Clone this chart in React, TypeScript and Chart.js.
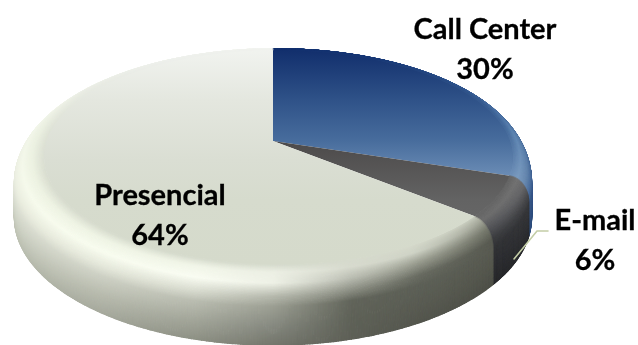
import { useEffect, useRef } from "react";
import { Chart, registerables } from "chart.js";

Chart.register(...registerables);

const categories = ["Call Center", "E-mail", "Presencial"];
const shares = [30, 6, 64];

// Disc geometry, relative to the radius Chart.js gives the pie.
const STRETCH_X = 1.808;
const STRETCH_Y = 0.816;
const THICKNESS = 0.39;
const PERSPECTIVE = 0.168;
const BEVEL_RIGHT = 0.07;
const BEVEL_LEFT = 0.112;
const SHOULDER = 0.4;

// Rim shading: rows follow the profile from the base (0) to the flat top (1),
// columns follow the angle clockwise from twelve o'clock.
const rimRows = [0, 0.25, 0.5, 0.61, 0.75, 0.88, 1];

const callCenterAngles = [0, 30, 60, 85, 108];
const callCenterRim = [
  ["#0c1d46", "#13264f", "#1b3160", "#284470", "#304f7e"],
  ["#0c1d46", "#13264f", "#1d3464", "#2b4877", "#365584"],
  ["#0c1d46", "#13264f", "#1f3868", "#2f4e7e", "#3c5c8c"],
  ["#0f2352", "#172e60", "#27457a", "#3d5f90", "#4d6f9e"],
  ["#12285c", "#1c3770", "#335688", "#5377a4", "#6c8cb2"],
  ["#143270", "#1f3f7c", "#3b5f95", "#5f86b3", "#7c9cc0"],
  ["#112e6c", "#1a3a76", "#2f5288", "#476c9c", "#6f90b8"],
];

const emailAngles = [108, 130];
const emailRim = [
  ["#2c2d30", "#28292c"],
  ["#333437", "#2e2f32"],
  ["#3a3b3e", "#333437"],
  ["#4a4b4e", "#3c3d40"],
  ["#6a6a6c", "#55565a"],
  ["#747474", "#6e6e6e"],
  ["#666666", "#686868"],
];

const presencialAngles = [129, 150, 165, 180, 195, 215, 250, 275, 300, 330, 360];
const presencialRim = [
  ["#4e5048", "#54564e", "#5e6057", "#74766c", "#8e9185", "#a6a99d", "#bcc0b2", "#c8ccbe", "#d2d6ca", "#dadcd4", "#e0e2dc"],
  ["#55574e", "#5a5c53", "#5f6258", "#868980", "#a3a69a", "#b8bbae", "#cfd3c6", "#d8dbcf", "#dde0d6", "#e2e4de", "#e6e8e2"],
  ["#5a5c53", "#5e6158", "#62655b", "#9c9f93", "#bbbeb2", "#ced1c5", "#dfe2d6", "#e4e7db", "#e6e9df", "#eaece6", "#ebede8"],
  ["#595b52", "#686b61", "#8a8d82", "#b6b9ad", "#d8dbcf", "#e4e7da", "#ebeee0", "#eef1e6", "#eef1e9", "#f1f3ee", "#f2f4f0"],
  ["#74776b", "#9a9d90", "#bcbfb4", "#eef1e6", "#f9fcf2", "#f8fcef", "#f6faec", "#f2f6e9", "#f1f4ec", "#f3f5f1", "#f4f6f2"],
  ["#a0a396", "#cfd3c6", "#d8dbcf", "#ecefe4", "#f1f5e8", "#eff4e5", "#edf2e2", "#ebf0e1", "#eaede4", "#eff1ed", "#f2f4f0"],
  ["#c4c8ba", "#d5d9cb", "#d6dacd", "#d6dbcd", "#d6dbcd", "#d6dbcd", "#d9ddd0", "#dee2d6", "#e6e9e1", "#edefeb", "#f0f2ee"],
];

const sliceRims = [
  { angles: callCenterAngles, rim: callCenterRim },
  { angles: emailAngles, rim: emailRim },
  { angles: presencialAngles, rim: presencialRim },
];

// Vertical gradients of the flat top face: [canvas y, colour].
const sliceFaces: [number, string][][] = [
  [[49, "#112e6c"], [100, "#2f5288"], [140, "#476c9c"], [180, "#6f90b8"]],
  [[141, "#4c4a4a"], [200, "#636363"], [235, "#686868"]],
  [[49, "#f1f3ef"], [100, "#e4e7df"], [160, "#dadED3"], [200, "#d6dbcd"], [265, "#d5dacb"]],
];

const labelAnchors = [
  { x: 485, y: 39 },
  { x: 595, y: 230 },
  { x: 160, y: 205 },
];
const LABEL_LEADING = 40;
const leaderLine = [[514, 259], [537, 231], [548, 231]];

const rgb = (hex: string) => [1, 3, 5].map((i) => parseInt(hex.slice(i, i + 2), 16));

function rimColor(angles: number[], rim: string[][], deg: number, t: number) {
  const find = (stops: number[], v: number) => {
    let i = 0;
    while (i < stops.length - 2 && v > stops[i + 1]) i++;
    const f = Math.min(1, Math.max(0, (v - stops[i]) / (stops[i + 1] - stops[i])));
    return [i, f];
  };
  const [row, rf] = find(rimRows, t);
  const [col, cf] = find(angles, deg);
  const a = rgb(rim[row][col]);
  const b = rgb(rim[row][col + 1]);
  const c = rgb(rim[row + 1][col]);
  const d = rgb(rim[row + 1][col + 1]);
  const mix = a.map((_, i) => {
    const top = a[i] + (b[i] - a[i]) * cf;
    const bottom = c[i] + (d[i] - c[i]) * cf;
    return Math.round(top + (bottom - top) * rf);
  });
  return `rgb(${mix[0]},${mix[1]},${mix[2]})`;
}

// The bevel is slightly narrower on the right-hand side of the disc.
const bevelAt = (deg: number) =>
  BEVEL_LEFT + ((BEVEL_RIGHT - BEVEL_LEFT) * (1 + Math.sin((deg * Math.PI) / 180))) / 2;

// Position on the rim profile: t=0 base, t=0.5 shoulder, t=1 edge of the flat top.
function profile(t: number, deg: number) {
  if (t <= 0.5) return { r: 1, d: 1 - (1 - SHOULDER) * (t / 0.5) };
  const phi = ((t - 0.5) / 0.5) * (Math.PI / 2);
  const bevel = bevelAt(deg);
  return { r: 1 - bevel + bevel * Math.cos(phi), d: SHOULDER * (1 - Math.sin(phi)) };
}

const disc3d = {
  id: "disc3d",
  beforeDatasetsDraw(chart: any) {
    const { ctx } = chart;
    const arcs = chart.getDatasetMeta(0).data;
    const { x: cx, y: cy, outerRadius: R } = arcs[0];
    const project = (deg: number, r: number, d: number) => {
      const th = (deg * Math.PI) / 180;
      const u = r * Math.sin(th);
      const v = -r * Math.cos(th);
      const w = 1 - PERSPECTIVE * v;
      return [cx + (R * STRETCH_X * u) / w, cy + (R * STRETCH_Y * v + R * THICKNESS * d) / w];
    };
    const spans = arcs.map((arc: any) => [
      ((arc.startAngle + Math.PI / 2) * 180) / Math.PI,
      ((arc.endAngle + Math.PI / 2) * 180) / Math.PI,
    ]);

    ctx.save();
    ctx.lineWidth = 1.2;
    ctx.lineCap = "round";
    // The rim is painted base-first as thin bands, one short stroke per colour step.
    const strips = 160;
    for (let s = 0; s < strips; s++) {
      const t = (s + 0.5) / strips;
      spans.forEach(([start, end]: number[], i: number) => {
        const steps = Math.max(2, Math.ceil((end - start) * 2));
        for (let k = 0; k < steps; k++) {
          const a0 = start + ((end - start) * k) / steps;
          const a1 = start + ((end - start) * (k + 1)) / steps;
          const p0 = profile(t, a0);
          const p1 = profile(t, a1);
          const [x0, y0] = project(a0, p0.r, p0.d);
          const [x1, y1] = project(a1, p1.r, p1.d);
          ctx.beginPath();
          ctx.moveTo(x0, y0);
          ctx.lineTo(x1, y1);
          ctx.strokeStyle = rimColor(sliceRims[i].angles, sliceRims[i].rim, (a0 + a1) / 2, t);
          ctx.stroke();
        }
      });
    }

    // Flat top face of each slice, from the pie centre out to the bevel.
    spans.forEach(([start, end]: number[], i: number) => {
      const stops = sliceFaces[i];
      const y0 = stops[0][0];
      const y1 = stops[stops.length - 1][0];
      const grad = ctx.createLinearGradient(0, y0, 0, y1);
      stops.forEach(([y, c]) => grad.addColorStop((y - y0) / (y1 - y0), c));
      ctx.beginPath();
      ctx.moveTo(cx, cy);
      const steps = Math.ceil(end - start);
      for (let k = 0; k <= steps; k++) {
        const deg = start + ((end - start) * k) / steps;
        const [x, y] = project(deg, 1 - bevelAt(deg), 0);
        ctx.lineTo(x, y);
      }
      ctx.closePath();
      ctx.fillStyle = grad;
      ctx.fill();
    });

    // Leader line for the small slice.
    ctx.beginPath();
    leaderLine.forEach(([x, y], n) => (n ? ctx.lineTo(x, y) : ctx.moveTo(x, y)));
    ctx.strokeStyle = "#c3cda6";
    ctx.lineWidth = 1.6;
    ctx.stroke();

    // Category and share labels.
    ctx.fillStyle = "#000000";
    ctx.strokeStyle = "#000000";
    ctx.lineWidth = 0.3;
    ctx.font = "bold 29px Lato";
    ctx.textAlign = "center";
    ctx.textBaseline = "alphabetic";
    categories.forEach((name, i) => {
      const { x, y } = labelAnchors[i];
      ctx.fillText(name, x, y);
      ctx.strokeText(name, x, y);
      ctx.fillText(`${shares[i]}%`, x, y + LABEL_LEADING);
      ctx.strokeText(`${shares[i]}%`, x, y + LABEL_LEADING);
    });
    ctx.restore();
    return false;
  },
};

export default function App() {
  const canvasRef = useRef<HTMLCanvasElement>(null);

  useEffect(() => {
    const chart = new Chart(canvasRef.current!, {
      type: "pie",
      data: {
        labels: categories,
        datasets: [{ data: shares, borderWidth: 0 }],
      },
      options: {
        animation: false,
        responsive: false,
        rotation: 0,
        layout: { padding: { left: 0, right: 92, top: 0, bottom: 63 } },
        plugins: { legend: { display: false }, tooltip: { enabled: false } },
      },
      plugins: [disc3d],
    } as any);
    return () => chart.destroy();
  }, []);

  return (
    <div style={{ position: "absolute", left: 0, top: 0, width: 638, height: 345, background: "#ffffff" }}>
      <canvas ref={canvasRef} width={638} height={345} style={{ display: "block" }} />
    </div>
  );
}
